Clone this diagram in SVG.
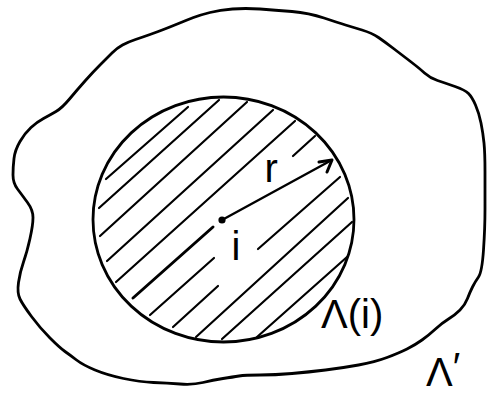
<svg xmlns="http://www.w3.org/2000/svg" width="487" height="394" viewBox="0 0 487 394">
<style>
.ink{fill:none;stroke:#000;stroke-linecap:round;stroke-linejoin:round}
.outline{stroke-width:2.8}
.hatch{stroke-width:2.2}
.lbl{font-family:"Liberation Sans",Arial,sans-serif;font-size:40px;fill:#000}
</style>
<rect width="487" height="394" fill="#fff"/>
<g id="region-lambda-prime">
<path class="ink outline" d="M13,175 Q13,167 14,158.5 Q15,150 20,141.5 Q25,133 31,127.5 Q37,122 43.5,118.5 Q50,115 56,111.5 Q62,108 69.5,99 Q77,90 85,81 Q93,72 100,65 Q107,58 112,53 Q117,48 122.5,45 Q128,42 135.5,39.5 Q143,37 150,34.5 Q157,32 163.5,29.5 Q170,27 178.5,23.5 Q187,20 193.5,17.5 Q200,15 210,12.5 Q220,10 232.5,9 Q245,8 260,9 Q275,10 292,11.5 Q309,13 324,18 Q339,23 345.5,25 Q352,27 362,30 Q372,33 378.5,37.5 Q385,42 393.5,48.5 Q402,55 410.5,61.5 Q419,68 424.5,73 Q430,78 437.5,80.5 Q445,83 455,86.5 Q465,90 468.5,93.5 Q472,97 475.5,105 Q479,113 481,123 Q483,133 484,143 Q485,153 485,171.5 Q485,190 485,209 Q485,228 483.5,250 Q482,272 478.5,277 Q475,282 472.5,287 Q470,292 467.5,298.5 Q465,305 460,310 Q455,315 448.5,319 Q442,323 435.5,329 Q429,335 422,340 Q415,345 407,349 Q399,353 387,357.5 Q375,362 358.5,365 Q342,368 325.5,370 Q309,372 292,373.5 Q275,375 260,375 Q245,375 239,376 Q233,377 223,378.5 Q213,380 203,382.5 Q193,385 180,384 Q167,383 153.5,382.5 Q140,382 123.5,378.5 Q107,375 95,370 Q83,365 76.5,360 Q70,355 65,351.5 Q60,348 50,338 Q40,328 31.5,316.5 Q23,305 20,299 Q17,293 18.5,282.5 Q20,272 23.5,262 Q27,252 30,238.5 Q33,225 33,217.5 Q33,210 27.5,202.5 Q22,195 17.5,189 Q13,183 13,175 Z"/>
<text class="lbl" x="426" y="385.5" font-size="37">Λ<tspan dy="-5">′</tspan></text>
</g>
<g id="region-lambda-i">
<ellipse class="ink outline" cx="223.5" cy="219.5" rx="130.5" ry="122.5"/>
<g class="ink hatch">
<line x1="106" y1="179" x2="188" y2="107"/>
<line x1="99" y1="208" x2="219" y2="100"/>
<line x1="100" y1="236" x2="247" y2="102"/>
<line x1="107" y1="261" x2="273" y2="110"/>
<line x1="116" y1="282" x2="295" y2="121"/>
<line x1="133" y1="298" x2="213" y2="227" stroke-width="3"/>
<line x1="293" y1="156" x2="315" y2="136"/>
<line x1="150" y1="315" x2="214" y2="258"/>
<line x1="173" y1="327" x2="218" y2="286"/>
<line x1="258" y1="249" x2="340" y2="177"/>
<line x1="196" y1="337" x2="348" y2="198"/>
<line x1="222" y1="339" x2="352" y2="222"/>
<line x1="257" y1="337" x2="347" y2="257"/>
</g>
<text class="lbl" x="321" y="328">Λ(i)</text>
</g>
<g id="node-i">
<circle cx="222" cy="220" r="3.6" fill="#000"/>
<text class="lbl" x="231.5" y="260">i</text>
</g>
<g id="connectors">
<line class="ink" stroke-width="2.4" x1="222" y1="220" x2="330" y2="161"/>
<polyline class="ink" stroke-width="3" points="319,162 332,160 327,172"/>
<text class="lbl" x="264.5" y="182">r</text>
</g>
</svg>
